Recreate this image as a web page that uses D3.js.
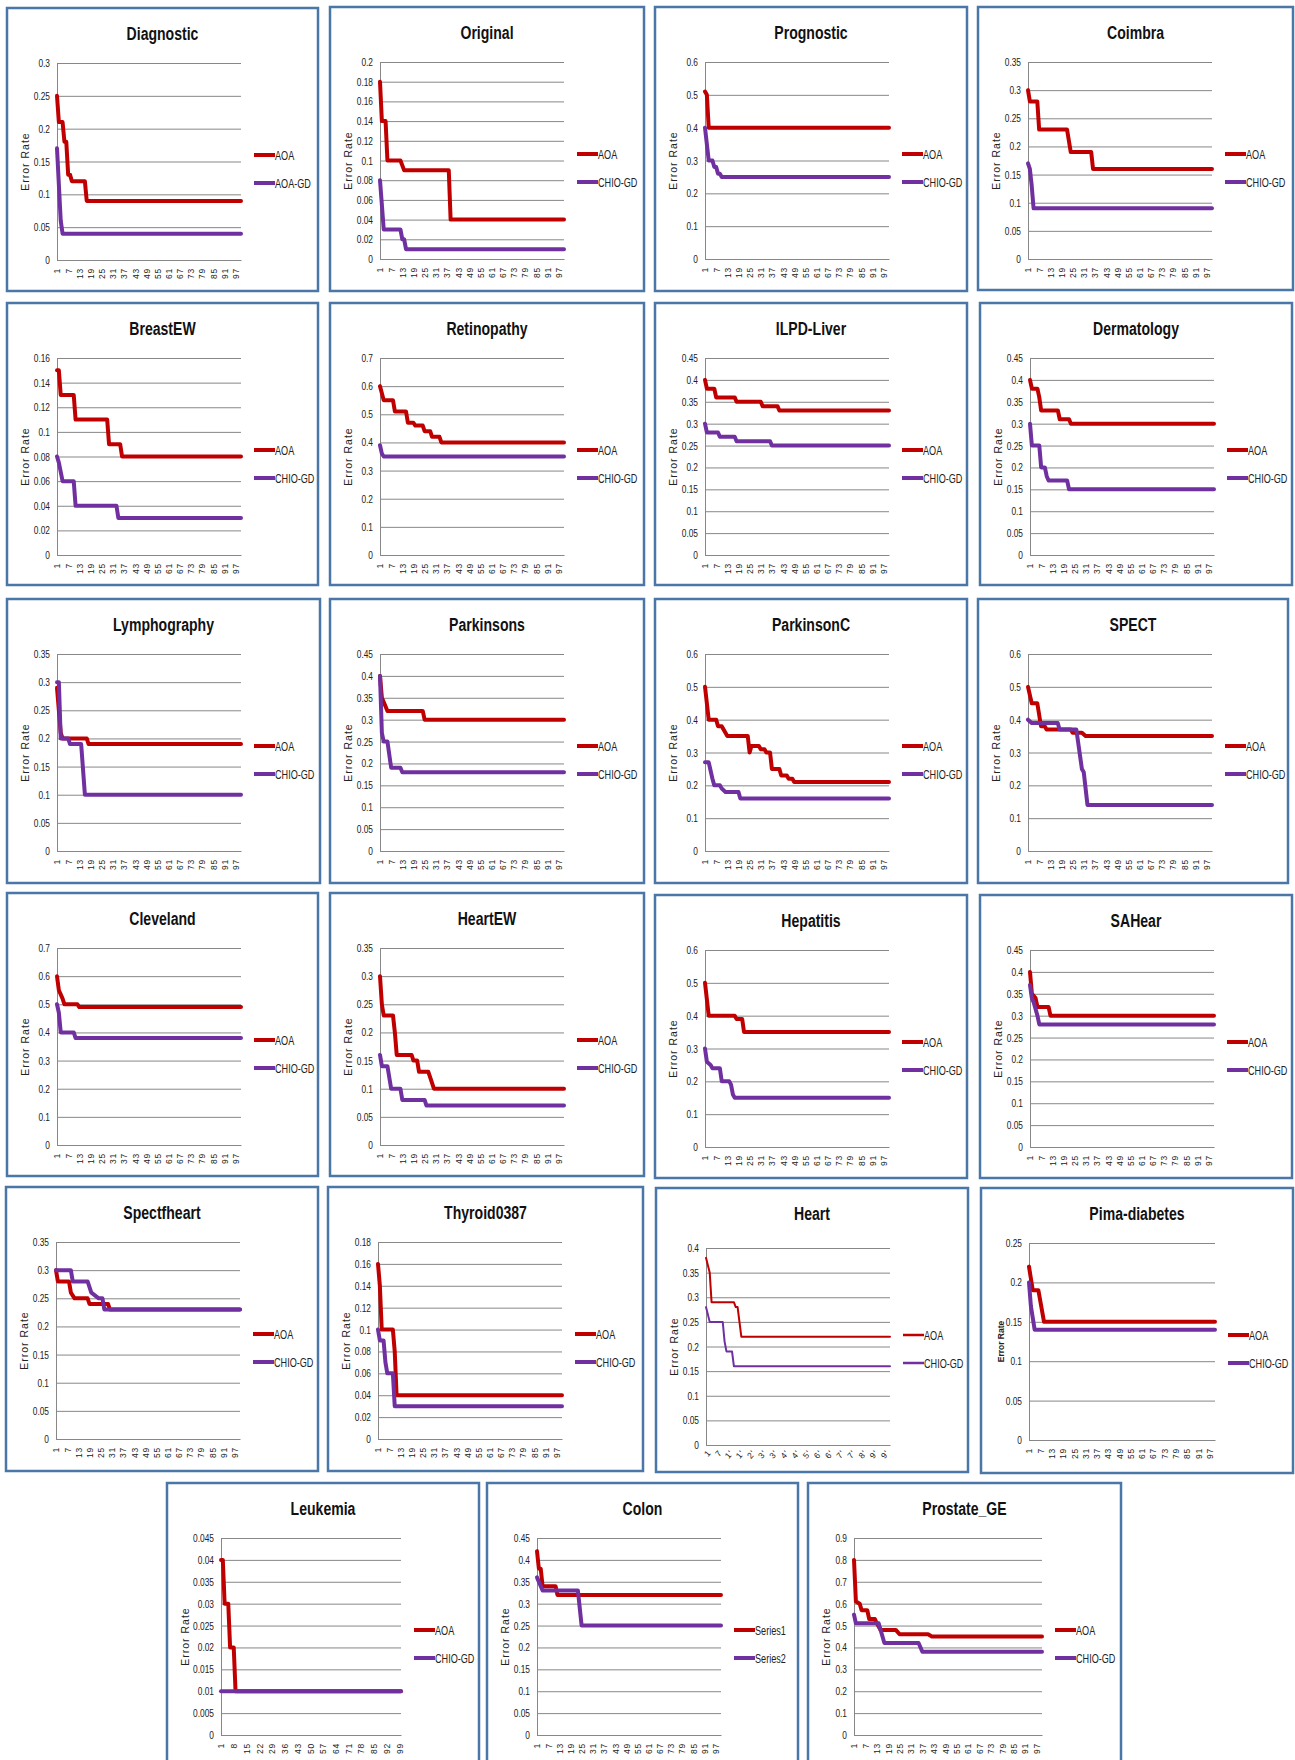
<!DOCTYPE html>
<html>
<head>
<meta charset="utf-8">
<script src="https://cdn.jsdelivr.net/npm/d3@7"></script>
<style>
  body { margin: 0; background: #fff; }
  svg { display: block; }
  text { font-family: "Liberation Sans", Arial, sans-serif; }
</style>
</head>
<body>
<script>
// chart data, one entry per panel
const titles = ["Diagnostic", "Original", "Prognostic", "Coimbra",
  "BreastEW", "Retinopathy", "ILPD-Liver", "Dermatology",
  "Lymphography", "Parkinsons", "ParkinsonC", "SPECT",
  "Cleveland", "HeartEW", "Hepatitis", "SAHear",
  "Spectfheart", "Thyroid0387", "Heart", "Pima-diabetes",
  "Leukemia", "Colon", "Prostate_GE"];

const nameA = ["AOA","AOA","AOA","AOA","AOA","AOA","AOA","AOA","AOA","AOA","AOA","AOA",
  "AOA","AOA","AOA","AOA","AOA","AOA","AOA","AOA","AOA","Series1","AOA"];
const nameB = ["AOA-GD","CHIO-GD","CHIO-GD","CHIO-GD","CHIO-GD","CHIO-GD","CHIO-GD","CHIO-GD",
  "CHIO-GD","CHIO-GD","CHIO-GD","CHIO-GD","CHIO-GD","CHIO-GD","CHIO-GD","CHIO-GD",
  "CHIO-GD","CHIO-GD","CHIO-GD","CHIO-GD","CHIO-GD","Series2","CHIO-GD"];

const yMaxes = [0.3, 0.2, 0.6, 0.35, 0.16, 0.7, 0.45, 0.45, 0.35, 0.45, 0.6, 0.6,
  0.7, 0.35, 0.6, 0.45, 0.35, 0.18, 0.4, 0.25, 0.045, 0.45, 0.9];
const yStepSizes = [0.05, 0.02, 0.1, 0.05, 0.02, 0.1, 0.05, 0.05, 0.05, 0.05, 0.1, 0.1,
  0.1, 0.05, 0.1, 0.05, 0.05, 0.02, 0.05, 0.05, 0.005, 0.05, 0.1];

// x tick labels (iterations)
const iterTicks = [1,7,13,19,25,31,37,43,49,55,61,67,73,79,85,91,97];
const iterTicksLeukemia = [1,8,15,22,29,36,43,50,57,64,71,78,85,92,99];
const heartTickText = ["1","7","1'","1'","2'","3'","3'","4'","4'","5'","6'","6'","7'","7'","8'","9'","9'"];

// [iteration, error rate] corner points
const aoaSeries = [
  [[1,.25],[2,.21],[4,.21],[5,.18],[6,.18],[7,.13],[8,.13],[9,.12],[16,.12],[17,.09],[100,.09]],
  [[1,.18],[2,.14],[4,.14],[5,.10],[12,.10],[14,.09],[38,.09],[39,.04],[100,.04]],
  [[1,.51],[2,.5],[3,.4],[100,.4]],
  [[1,.30],[2,.28],[6,.28],[7,.23],[22,.23],[24,.19],[35,.19],[36,.16],[100,.16]],
  [[1,.15],[2,.15],[3,.13],[10,.13],[11,.11],[28,.11],[29,.09],[35,.09],[36,.08],[100,.08]],
  [[1,.6],[3,.55],[8,.55],[9,.51],[15,.51],[16,.47],[19,.47],[20,.46],[24,.46],[25,.44],[28,.44],[29,.42],[33,.42],[34,.40],[100,.40]],
  [[1,.40],[2,.38],[6,.38],[7,.36],[17,.36],[18,.35],[31,.35],[32,.34],[40,.34],[41,.33],[100,.33]],
  [[1,.40],[2,.38],[5,.38],[6,.36],[7,.33],[16,.33],[17,.31],[22,.31],[23,.30],[100,.30]],
  [[1,.29],[2,.25],[3,.21],[4,.20],[17,.20],[18,.19],[100,.19]],
  [[1,.40],[2,.35],[3,.34],[4,.33],[5,.32],[24,.32],[25,.30],[100,.30]],
  [[1,.50],[2,.45],[3,.40],[7,.40],[8,.38],[10,.38],[11,.37],[13,.35],[24,.35],[25,.30],[26,.32],[30,.32],[31,.31],[33,.31],[34,.30],[36,.30],[37,.25],[41,.25],[42,.23],[45,.23],[46,.22],[48,.22],[49,.21],[100,.21]],
  [[1,.50],[3,.45],[6,.45],[8,.38],[10,.38],[11,.37],[24,.37],[25,.36],[30,.36],[32,.35],[100,.35]],
  [[1,.60],[2,.55],[4,.52],[5,.50],[12,.50],[13,.49],[100,.49]],
  [[1,.30],[2,.25],[3,.23],[8,.23],[9,.20],[10,.16],[18,.16],[19,.15],[21,.15],[22,.13],[27,.13],[28,.12],[30,.10],[100,.10]],
  [[1,.50],[3,.40],[17,.40],[18,.39],[21,.39],[22,.35],[100,.35]],
  [[1,.40],[2,.35],[4,.34],[5,.32],[11,.32],[12,.30],[100,.30]],
  [[1,.30],[2,.28],[8,.28],[9,.26],[11,.25],[18,.25],[19,.24],[29,.24],[30,.23],[100,.23]],
  [[1,.16],[2,.14],[3,.10],[9,.10],[10,.08],[11,.04],[100,.04]],
  [[1,.38],[3,.35],[4,.29],[16,.29],[17,.28],[18,.28],[20,.22],[100,.22]],
  [[1,.22],[3,.19],[6,.19],[9,.15],[100,.15]],
  [[1,.04],[2,.04],[3,.03],[5,.03],[6,.02],[8,.02],[9,.01],[100,.01]],
  [[1,.42],[2,.38],[3,.38],[4,.34],[11,.34],[12,.32],[100,.32]],
  [[1,.80],[2,.61],[4,.60],[5,.57],[8,.57],[9,.53],[12,.53],[13,.51],[15,.48],[23,.48],[25,.46],[40,.46],[42,.45],[100,.45]]
];

const gdSeries = [
  [[1,.17],[3,.06],[4,.04],[100,.04]],
  [[1,.08],[3,.03],[12,.03],[13,.02],[14,.02],[15,.01],[100,.01]],
  [[1,.4],[3,.3],[5,.3],[6,.28],[7,.28],[8,.26],[9,.26],[10,.25],[100,.25]],
  [[1,.17],[2,.16],[3,.13],[4,.09],[100,.09]],
  [[1,.08],[2,.075],[4,.06],[10,.06],[11,.04],[33,.04],[34,.03],[100,.03]],
  [[1,.39],[2,.36],[3,.35],[100,.35]],
  [[1,.30],[2,.28],[8,.28],[9,.27],[17,.27],[18,.26],[36,.26],[37,.25],[100,.25]],
  [[1,.30],[2,.25],[6,.25],[7,.20],[9,.20],[10,.18],[11,.17],[21,.17],[22,.15],[100,.15]],
  [[1,.30],[2,.30],[3,.20],[7,.20],[8,.19],[14,.19],[16,.10],[100,.10]],
  [[1,.40],[2,.27],[3,.25],[5,.25],[7,.19],[12,.19],[13,.18],[100,.18]],
  [[1,.27],[3,.27],[5,.22],[6,.20],[9,.20],[10,.19],[12,.18],[19,.18],[20,.16],[100,.16]],
  [[1,.40],[3,.39],[17,.39],[18,.37],[27,.37],[30,.25],[31,.24],[33,.14],[100,.14]],
  [[1,.50],[2,.47],[3,.40],[10,.40],[11,.38],[100,.38]],
  [[1,.16],[2,.14],[5,.14],[7,.10],[12,.10],[13,.08],[25,.08],[26,.07],[100,.07]],
  [[1,.30],[2,.26],[4,.25],[5,.24],[9,.24],[10,.20],[14,.20],[15,.19],[16,.16],[17,.15],[100,.15]],
  [[1,.37],[2,.34],[3,.33],[5,.30],[6,.28],[100,.28]],
  [[1,.30],[9,.30],[10,.28],[18,.28],[20,.26],[24,.25],[26,.25],[27,.23],[100,.23]],
  [[1,.10],[2,.09],[4,.09],[5,.07],[6,.06],[9,.06],[10,.03],[100,.03]],
  [[1,.28],[3,.25],[10,.25],[11,.21],[12,.19],[15,.19],[16,.16],[100,.16]],
  [[1,.20],[2,.17],[4,.14],[100,.14]],
  [[1,.01],[100,.01]],
  [[1,.36],[4,.33],[23,.33],[25,.25],[100,.25]],
  [[1,.55],[2,.51],[14,.51],[16,.45],[17,.42],[35,.42],[37,.38],[100,.38]]
];

// panel frames on the page: x, y, width, height
const boxes = [
  [7,8,311,283],[330,7,314,284],[655,7,312,284],[978,7,315,283],
  [7,303,311,282],[330,303,314,282],[655,303,312,282],[980,303,312,282],
  [7,599,313,284],[330,599,314,284],[655,599,312,284],[978,599,310,284],
  [7,893,311,283],[330,893,314,283],[655,895,312,283],[980,895,312,283],
  [6,1187,312,284],[328,1187,315,284],[656,1188,312,284],[981,1188,312,285],
  [167,1483,312,290],[487,1483,311,290],[808,1483,313,290]
];
const plotOverrides = { 18: {top: 60, bottom: 257}, 19: {left: 48}, 20: {left: 54}, 22: {left: 46} };

const W = 1295, H = 1760;
const red = "#c00000", purple = "#7030a0", gridCol = "#878787";

const svg = d3.select("body").append("svg").attr("width", W).attr("height", H);

boxes.forEach((b, i) => {
  const [bx, by, bw, bh] = b;
  const o = plotOverrides[i] || {};
  const L = o.left || 50, R = 234, T = o.top || 55, B = o.bottom || 252;
  const isHeart = i === 18, isLeuk = i === 20, isPima = i === 19;
  const g = svg.append("g").attr("transform", `translate(${bx},${by})`);

  g.append("rect").attr("width", bw).attr("height", bh)
    .attr("fill", "#fff").attr("stroke", "#4a76a8").attr("stroke-width", 2.5);

  // title, squeezed to look like a narrow face
  g.append("text").attr("transform", `translate(${bw / 2},32) scale(0.74,1)`)
    .attr("text-anchor", "middle")
    .style("font-size", "19px").style("font-weight", "bold").attr("fill", "#111")
    .text(titles[i]);

  const x = d3.scaleLinear().domain([1, 100]).range([L, R]);
  const y = d3.scaleLinear().domain([0, yMaxes[i]]).range([B, T]);
  const yTicks = d3.range(0, yMaxes[i] + yStepSizes[i] / 2, yStepSizes[i]).map(v => +v.toFixed(4));

  // gridlines + y axis
  const ya = g.append("g").attr("transform", `translate(${L},0)`)
    .call(d3.axisLeft(y).tickValues(yTicks).tickSize(-(R - L)).tickSizeOuter(0).tickPadding(7).tickFormat(d => String(d)));
  ya.selectAll(".tick line").attr("stroke", gridCol);
  ya.select(".domain").attr("stroke", gridCol);
  ya.selectAll("text").style("font-size", "11px").attr("fill", "#222")
    .attr("x", -7 / 0.76).attr("transform", "scale(0.76,1)");

  // x axis labels
  const tv = isLeuk ? iterTicksLeukemia : iterTicks;
  const xa = g.append("g").attr("transform", `translate(0,${B})`)
    .call(d3.axisBottom(x).tickValues(tv).tickSize(0)
      .tickFormat((d, j) => isHeart ? heartTickText[j] : String(d)));
  xa.select(".domain").attr("stroke", gridCol);
  xa.selectAll("text").style("font-size", "8.5px").style("letter-spacing", "0.8px").attr("fill", "#222");
  if (isHeart) {
    xa.selectAll("text").attr("x", -3).attr("y", 6).attr("dy", "0.35em")
      .attr("transform", "rotate(-50)").style("text-anchor", "end");
  } else {
    xa.selectAll("text").attr("x", -8).attr("y", 0).attr("dy", "0.35em")
      .attr("transform", "rotate(-90)").style("text-anchor", "end");
  }

  // y axis title
  g.append("text").attr("transform", `translate(${isPima ? 20 : 18},${(T + B) / 2}) rotate(-90)`)
    .attr("text-anchor", "middle").attr("dy", "0.35em")
    .style("font-size", isPima ? "8.5px" : "10.5px")
    .style("font-weight", isPima ? "bold" : "normal")
    .style("letter-spacing", isPima ? "0px" : "1px")
    .attr("fill", "#222").text("Error Rate");

  const lw = isHeart ? 2 : 4;
  const line = d3.line().x(d => x(d[0])).y(d => y(d[1]));
  [[aoaSeries[i], red], [gdSeries[i], purple]].forEach(([s, c]) => {
    g.append("path").datum(s).attr("d", line).attr("fill", "none")
      .attr("stroke", c).attr("stroke-width", lw)
      .attr("stroke-linejoin", "round").attr("stroke-linecap", "round");
  });

  // legend
  [[nameA[i], red, 147], [nameB[i], purple, 175]].forEach(([n, c, ly]) => {
    g.append("line").attr("x1", 247).attr("x2", 268).attr("y1", ly).attr("y2", ly)
      .attr("stroke", c).attr("stroke-width", isHeart ? 2.5 : 4);
    g.append("text").attr("transform", `translate(268,${ly}) scale(0.7,1)`).attr("dy", "0.35em")
      .style("font-size", "13px").attr("fill", "#222").text(n);
  });
});
</script>
</body>
</html>
